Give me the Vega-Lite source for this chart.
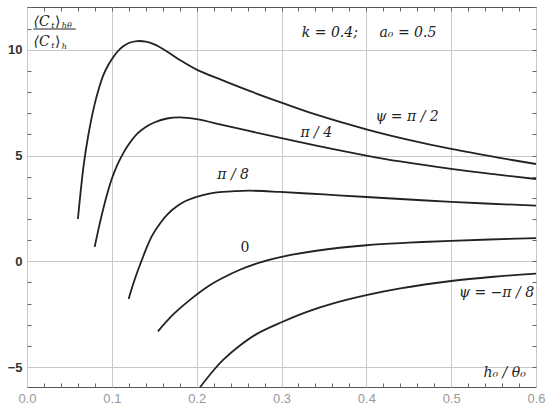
{
  "$schema": "https://vega.github.io/schema/vega-lite/v6.json",
  "width": 509,
  "height": 380,
  "autosize": {"type": "none"},
  "padding": {"left": 27, "top": 7, "right": 14, "bottom": 25},
  "background": "white",
  "config": {
    "view": {"stroke": "#555", "strokeWidth": 1},
    "axis": {"domain": false, "labelFont": "Liberation Sans", "labelFontSize": 13, "tickColor": "#666", "tickWidth": 1, "gridColor": "#c8c8c8", "gridWidth": 1}
  },
  "datasets": {
    "curves": [
      {"s": "a", "x": 0.060, "y": 2.0}, {"s": "a", "x": 0.063, "y": 3.2}, {"s": "a", "x": 0.067, "y": 4.6}, {"s": "a", "x": 0.072, "y": 5.9}, {"s": "a", "x": 0.079, "y": 7.3}, {"s": "a", "x": 0.085, "y": 8.2}, {"s": "a", "x": 0.090, "y": 8.8}, {"s": "a", "x": 0.095, "y": 9.22}, {"s": "a", "x": 0.100, "y": 9.55}, {"s": "a", "x": 0.106, "y": 9.88}, {"s": "a", "x": 0.113, "y": 10.15}, {"s": "a", "x": 0.120, "y": 10.32}, {"s": "a", "x": 0.130, "y": 10.41}, {"s": "a", "x": 0.140, "y": 10.38}, {"s": "a", "x": 0.150, "y": 10.25}, {"s": "a", "x": 0.165, "y": 9.92}, {"s": "a", "x": 0.180, "y": 9.52}, {"s": "a", "x": 0.200, "y": 9.06}, {"s": "a", "x": 0.230, "y": 8.56}, {"s": "a", "x": 0.263, "y": 8.04}, {"s": "a", "x": 0.300, "y": 7.5}, {"s": "a", "x": 0.341, "y": 6.93}, {"s": "a", "x": 0.400, "y": 6.24}, {"s": "a", "x": 0.450, "y": 5.74}, {"s": "a", "x": 0.500, "y": 5.31}, {"s": "a", "x": 0.557, "y": 4.89}, {"s": "a", "x": 0.600, "y": 4.6},
      {"s": "b", "x": 0.0798, "y": 0.68}, {"s": "b", "x": 0.085, "y": 1.65}, {"s": "b", "x": 0.090, "y": 2.5}, {"s": "b", "x": 0.095, "y": 3.25}, {"s": "b", "x": 0.100, "y": 3.9}, {"s": "b", "x": 0.107, "y": 4.6}, {"s": "b", "x": 0.114, "y": 5.15}, {"s": "b", "x": 0.120, "y": 5.53}, {"s": "b", "x": 0.130, "y": 6.03}, {"s": "b", "x": 0.140, "y": 6.35}, {"s": "b", "x": 0.150, "y": 6.56}, {"s": "b", "x": 0.165, "y": 6.75}, {"s": "b", "x": 0.180, "y": 6.8}, {"s": "b", "x": 0.200, "y": 6.72}, {"s": "b", "x": 0.230, "y": 6.45}, {"s": "b", "x": 0.263, "y": 6.15}, {"s": "b", "x": 0.300, "y": 5.82}, {"s": "b", "x": 0.341, "y": 5.47}, {"s": "b", "x": 0.400, "y": 5.0}, {"s": "b", "x": 0.440, "y": 4.72}, {"s": "b", "x": 0.500, "y": 4.37}, {"s": "b", "x": 0.550, "y": 4.12}, {"s": "b", "x": 0.600, "y": 3.89},
      {"s": "c", "x": 0.1198, "y": -1.78}, {"s": "c", "x": 0.125, "y": -1.1}, {"s": "c", "x": 0.1296, "y": -0.55}, {"s": "c", "x": 0.135, "y": 0.02}, {"s": "c", "x": 0.1414, "y": 0.68}, {"s": "c", "x": 0.148, "y": 1.25}, {"s": "c", "x": 0.157, "y": 1.8}, {"s": "c", "x": 0.165, "y": 2.2}, {"s": "c", "x": 0.1767, "y": 2.6}, {"s": "c", "x": 0.187, "y": 2.85}, {"s": "c", "x": 0.200, "y": 3.05}, {"s": "c", "x": 0.215, "y": 3.2}, {"s": "c", "x": 0.230, "y": 3.28}, {"s": "c", "x": 0.245, "y": 3.32}, {"s": "c", "x": 0.263, "y": 3.34}, {"s": "c", "x": 0.298, "y": 3.28}, {"s": "c", "x": 0.350, "y": 3.16}, {"s": "c", "x": 0.400, "y": 3.04}, {"s": "c", "x": 0.500, "y": 2.81}, {"s": "c", "x": 0.600, "y": 2.63},
      {"s": "d", "x": 0.1543, "y": -3.31}, {"s": "d", "x": 0.1727, "y": -2.5}, {"s": "d", "x": 0.1924, "y": -1.81}, {"s": "d", "x": 0.2159, "y": -1.12}, {"s": "d", "x": 0.230, "y": -0.8}, {"s": "d", "x": 0.251, "y": -0.4}, {"s": "d", "x": 0.275, "y": -0.05}, {"s": "d", "x": 0.300, "y": 0.21}, {"s": "d", "x": 0.341, "y": 0.5}, {"s": "d", "x": 0.400, "y": 0.76}, {"s": "d", "x": 0.450, "y": 0.88}, {"s": "d", "x": 0.500, "y": 0.97}, {"s": "d", "x": 0.600, "y": 1.1},
      {"s": "e", "x": 0.204, "y": -5.95}, {"s": "e", "x": 0.220, "y": -5.15}, {"s": "e", "x": 0.2315, "y": -4.65}, {"s": "e", "x": 0.251, "y": -3.98}, {"s": "e", "x": 0.271, "y": -3.43}, {"s": "e", "x": 0.300, "y": -2.88}, {"s": "e", "x": 0.330, "y": -2.39}, {"s": "e", "x": 0.361, "y": -1.99}, {"s": "e", "x": 0.400, "y": -1.6}, {"s": "e", "x": 0.440, "y": -1.28}, {"s": "e", "x": 0.500, "y": -0.93}, {"s": "e", "x": 0.550, "y": -0.73}, {"s": "e", "x": 0.600, "y": -0.58}
    ],
    "labels": [
      {"x": 0.357, "y": 10.81, "t": "k = 0.4;"},
      {"x": 0.449, "y": 10.81, "t": "a₀ = 0.5"},
      {"x": 0.448, "y": 6.84, "t": "ψ = π / 2"},
      {"x": 0.341, "y": 6.08, "t": "π / 4"},
      {"x": 0.243, "y": 4.10, "t": "π / 8"},
      {"x": 0.5535, "y": -1.49, "t": "ψ = −π / 8"},
      {"x": 0.563, "y": -5.28, "t": "h₀ / θ₀"}
    ],
    "zero": [{"x": 0.257, "y": 0.65, "t": "0"}],
    "frac": [
      {"x": 0.0076, "y": 11.33, "t": "⟨C"},
      {"x": 0.0076, "y": 10.38, "t": "⟨C"}
    ],
    "fracsub1": [
      {"x": 0.0285, "y": 11.13, "t": "t"},
      {"x": 0.0285, "y": 10.18, "t": "t"}
    ],
    "fracclose": [
      {"x": 0.0330, "y": 11.33, "t": "⟩"},
      {"x": 0.0330, "y": 10.38, "t": "⟩"}
    ],
    "fracsub2": [
      {"x": 0.0410, "y": 11.1, "t": "hθ"},
      {"x": 0.0410, "y": 10.15, "t": "h"}
    ],
    "bar": [{"x": 0.0076, "x2": 0.0575, "y": 10.98}],
    "xt": [{"x": 0.0, "y": 0.0}, {"x": 0.6, "y": 0.0}],
    "yt": [{"x": 0.0, "y": -5.94}, {"x": 0.0, "y": 12.02}]
  },
  "resolve": {"axis": {"x": "independent", "y": "independent"}},
  "layer": [
    {
      "data": {"name": "curves"},
      "mark": {"type": "line", "color": "#222", "strokeWidth": 1.8, "clip": true, "interpolate": "catmull-rom"},
      "encoding": {
        "x": {"field": "x", "type": "quantitative", "scale": {"domain": [0, 0.6], "nice": false, "zero": false},
          "axis": {"orient": "bottom", "title": null, "values": [0, 0.1, 0.2, 0.3, 0.4, 0.5, 0.6], "format": ".1f",
            "ticks": false, "labelColor": "#999", "labelPadding": 5, "labelFlush": false, "labelOverlap": false}},
        "y": {"field": "y", "type": "quantitative", "scale": {"domain": [-5.94, 12.02], "nice": false, "zero": false},
          "axis": {"orient": "left", "title": null, "values": [-5, 0, 5, 10],
            "labelExpr": "datum.value < 0 ? '−' + abs(datum.value) : '' + datum.value",
            "ticks": false, "labelColor": "#333", "labelFontWeight": "bold", "labelPadding": 5, "labelOverlap": false}},
        "detail": {"field": "s"}
      }
    },
    {
      "data": {"name": "xt"},
      "mark": {"type": "point", "opacity": 0},
      "encoding": {
        "x": {"field": "x", "type": "quantitative",
          "axis": {"orient": "bottom", "offset": -4, "title": null, "labels": false, "grid": false, "ticks": true, "tickSize": 4, "values": [0.02,0.04,0.06,0.08,0.12,0.14,0.16,0.18,0.22,0.24,0.26,0.28,0.32,0.34,0.36,0.38,0.42,0.44,0.46,0.48,0.52,0.54,0.56,0.58]}},
        "y": {"field": "y", "type": "quantitative",
          "axis": {"orient": "left", "offset": -4, "title": null, "labels": false, "grid": false, "ticks": true, "tickSize": 4, "values": [-4,-3,-2,-1,1,2,3,4,6,7,8,9,11,12]}}
      }
    },
    {
      "data": {"name": "yt"},
      "mark": {"type": "point", "opacity": 0},
      "encoding": {
        "x": {"field": "x", "type": "quantitative",
          "axis": {"orient": "top", "offset": -4, "title": null, "labels": false, "grid": false, "ticks": true, "tickSize": 4, "values": [0.02,0.04,0.06,0.08,0.1,0.12,0.14,0.16,0.18,0.2,0.22,0.24,0.26,0.28,0.3,0.32,0.34,0.36,0.38,0.4,0.42,0.44,0.46,0.48,0.5,0.52,0.54,0.56,0.58]}},
        "y": {"field": "y", "type": "quantitative",
          "axis": {"orient": "right", "offset": -4, "title": null, "labels": false, "grid": false, "ticks": true, "tickSize": 4, "values": [-5,-4,-3,-2,-1,0,1,2,3,4,5,6,7,8,9,10,11,12]}}
      }
    },
    {
      "data": {"name": "labels"},
      "mark": {"type": "text", "font": "DejaVu Serif", "fontStyle": "italic", "fontSize": 14, "color": "#222", "align": "center", "baseline": "middle"},
      "encoding": {
        "x": {"field": "x", "type": "quantitative", "axis": null},
        "y": {"field": "y", "type": "quantitative", "axis": null},
        "text": {"field": "t"}
      }
    },
    {
      "data": {"name": "zero"},
      "mark": {"type": "text", "font": "DejaVu Serif", "fontSize": 14, "color": "#222", "align": "center", "baseline": "middle"},
      "encoding": {
        "x": {"field": "x", "type": "quantitative", "axis": null},
        "y": {"field": "y", "type": "quantitative", "axis": null},
        "text": {"field": "t"}
      }
    },
    {
      "data": {"name": "frac"},
      "mark": {"type": "text", "font": "DejaVu Serif", "fontStyle": "italic", "fontSize": 14, "color": "#222", "align": "left", "baseline": "middle"},
      "encoding": {
        "x": {"field": "x", "type": "quantitative", "axis": null},
        "y": {"field": "y", "type": "quantitative", "axis": null},
        "text": {"field": "t"}
      }
    },
    {
      "data": {"name": "fracclose"},
      "mark": {"type": "text", "font": "DejaVu Serif", "fontSize": 14, "color": "#222", "align": "left", "baseline": "middle"},
      "encoding": {
        "x": {"field": "x", "type": "quantitative", "axis": null},
        "y": {"field": "y", "type": "quantitative", "axis": null},
        "text": {"field": "t"}
      }
    },
    {
      "data": {"name": "fracsub1"},
      "mark": {"type": "text", "font": "DejaVu Serif", "fontStyle": "italic", "fontSize": 8, "color": "#222", "align": "left", "baseline": "middle"},
      "encoding": {
        "x": {"field": "x", "type": "quantitative", "axis": null},
        "y": {"field": "y", "type": "quantitative", "axis": null},
        "text": {"field": "t"}
      }
    },
    {
      "data": {"name": "fracsub2"},
      "mark": {"type": "text", "font": "DejaVu Serif", "fontStyle": "italic", "fontSize": 8, "color": "#222", "align": "left", "baseline": "middle"},
      "encoding": {
        "x": {"field": "x", "type": "quantitative", "axis": null},
        "y": {"field": "y", "type": "quantitative", "axis": null},
        "text": {"field": "t"}
      }
    },
    {
      "data": {"name": "bar"},
      "mark": {"type": "rule", "color": "#222", "strokeWidth": 1},
      "encoding": {
        "x": {"field": "x", "type": "quantitative", "axis": null},
        "x2": {"field": "x2"},
        "y": {"field": "y", "type": "quantitative", "axis": null}
      }
    }
  ]
}
